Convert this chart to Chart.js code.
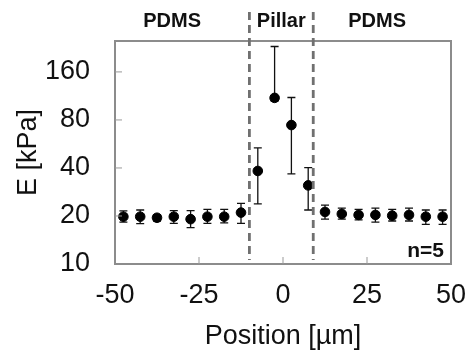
<!DOCTYPE html>
<html>
<head>
<meta charset="utf-8">
<script src="https://cdn.jsdelivr.net/npm/chart.js@4.4.1/dist/chart.umd.min.js"></script>
<style>
html,body{margin:0;padding:0;background:#fff;}
#wrap{width:469px;height:360px;}
</style>
</head>
<body>
<div id="wrap"><canvas id="c" width="469" height="360"></canvas></div>
<script>
// Data
const positions = [-47.5,-42.5,-37.5,-32.5,-27.5,-22.5,-17.5,-12.5,-7.5,-2.5,2.5,7.5,12.5,17.5,22.5,27.5,32.5,37.5,42.5,47.5];
const modulus   = [19.8,19.8,19.5,19.8,19.1,19.8,19.8,21.0,38.3,110,74.3,31.1,21.2,20.6,20.3,20.3,20.1,20.3,19.8,19.8];
const errLow    = [18.3,17.9,18.6,18.0,16.9,18.0,18.1,18.0,23.8,105,36.7,21.8,19.1,19.1,18.9,18.3,18.6,18.6,17.7,17.7];
const errHigh   = [21.5,21.8,20.4,21.6,21.6,22.0,22.0,24.0,53.5,231,110.6,40.2,23.4,22.4,22.0,22.4,22.0,22.4,21.8,21.8];
const xTicks = [-50,-25,0,25,50];
const yTicks = [10,20,40,80,160];
const boundaries = [-10, 9];
const regionLabels = ['PDMS','Pillar','PDMS'];
const regionLabelX = [-33,-0.5,28];
const sampleNote = 'n=5';

const FONT = '"Liberation Sans", Arial, sans-serif';

const overlay = {
  id:'overlay',
  beforeDatasetsDraw(chart){
    const ctx = chart.ctx, xs = chart.scales.x, ys = chart.scales.y;
    ctx.save();
    ctx.strokeStyle = '#111';
    ctx.lineWidth = 1.3;
    positions.forEach((p,i)=>{
      const x = xs.getPixelForValue(p);
      const y1 = ys.getPixelForValue(errLow[i]);
      const y2 = ys.getPixelForValue(errHigh[i]);
      ctx.beginPath();
      ctx.moveTo(x,y1); ctx.lineTo(x,y2);
      ctx.moveTo(x-4,y1); ctx.lineTo(x+4,y1);
      ctx.moveTo(x-4,y2); ctx.lineTo(x+4,y2);
      ctx.stroke();
    });
    ctx.restore();
  },
  afterDraw(chart){
    const ctx = chart.ctx, a = chart.chartArea, xs = chart.scales.x, ys = chart.scales.y;
    ctx.save();
    // frame
    ctx.strokeStyle = '#8c8c8c';
    ctx.lineWidth = 2;
    ctx.strokeRect(a.left, a.top, a.right-a.left, a.bottom-a.top);
    // inner ticks
    ctx.lineWidth = 1;
    ctx.strokeStyle = '#999';
    ctx.beginPath();
    xTicks.slice(1,-1).forEach(v=>{
      const x = xs.getPixelForValue(v);
      ctx.moveTo(x,a.bottom); ctx.lineTo(x,a.bottom-7);
    });
    yTicks.slice(1).forEach(v=>{
      const y = ys.getPixelForValue(v);
      ctx.moveTo(a.left,y); ctx.lineTo(a.left+7,y);
    });
    ctx.stroke();
    // dashed boundaries
    ctx.strokeStyle = '#707070';
    ctx.lineWidth = 2.8;
    ctx.setLineDash([8,5]);
    boundaries.forEach(b=>{
      const x = xs.getPixelForValue(b);
      ctx.beginPath();
      ctx.moveTo(x,12); ctx.lineTo(x,a.bottom-4);
      ctx.stroke();
    });
    ctx.setLineDash([]);
    // region labels
    ctx.fillStyle = '#111';
    ctx.font = 'bold 20px ' + FONT;
    ctx.textAlign = 'center';
    ctx.textBaseline = 'middle';
    regionLabels.forEach((t,i)=>{
      ctx.fillText(t, xs.getPixelForValue(regionLabelX[i]), 21);
    });
    // n note
    ctx.font = 'bold 21px ' + FONT;
    ctx.textAlign = 'right';
    ctx.fillText(sampleNote, a.right-7, a.bottom-13);
    ctx.restore();
  }
};

new Chart(document.getElementById('c'), {
  type:'scatter',
  data:{
    datasets:[{
      data: positions.map((x,i)=>({x:x, y:modulus[i]})),
      backgroundColor:'#000',
      borderColor:'#000',
      pointRadius:4.8,
      pointHoverRadius:4.8
    }]
  },
  options:{
    responsive:false,
    animation:false,
    devicePixelRatio:1,
    layout:{padding:{top:41,right:18,left:0,bottom:0}},
    plugins:{legend:{display:false},tooltip:{enabled:false}},
    scales:{
      x:{
        type:'linear', min:-50, max:50,
        afterBuildTicks:s=>{ s.ticks = xTicks.map(v=>({value:v})); },
        afterFit:s=>{ s.height = 96; s.paddingLeft = 0; s.paddingRight = 0; },
        grid:{display:false, drawTicks:false},
        border:{display:false},
        ticks:{font:{family:FONT,size:27}, color:'#111', padding:15, autoSkip:false, maxRotation:0,
               callback:v=>String(v)},
        title:{display:true, text:'Position [µm]', font:{family:FONT,size:27}, color:'#111',
               padding:{top:0,bottom:7}}
      },
      y:{
        type:'logarithmic', min:10, max:250,
        afterBuildTicks:s=>{ s.ticks = yTicks.map(v=>({value:v})); },
        afterFit:s=>{ s.width = 115; s.paddingTop = 0; s.paddingBottom = 0; },
        grid:{display:false, drawTicks:false},
        border:{display:false},
        ticks:{font:{family:FONT,size:27}, color:'#111', padding:25, autoSkip:false,
               callback:v=>String(v)},
        title:{display:true, text:'E [kPa]', font:{family:FONT,size:27}, color:'#111',
               padding:{top:12,bottom:0}}
      }
    }
  },
  plugins:[overlay]
});
</script>
</body>
</html>
